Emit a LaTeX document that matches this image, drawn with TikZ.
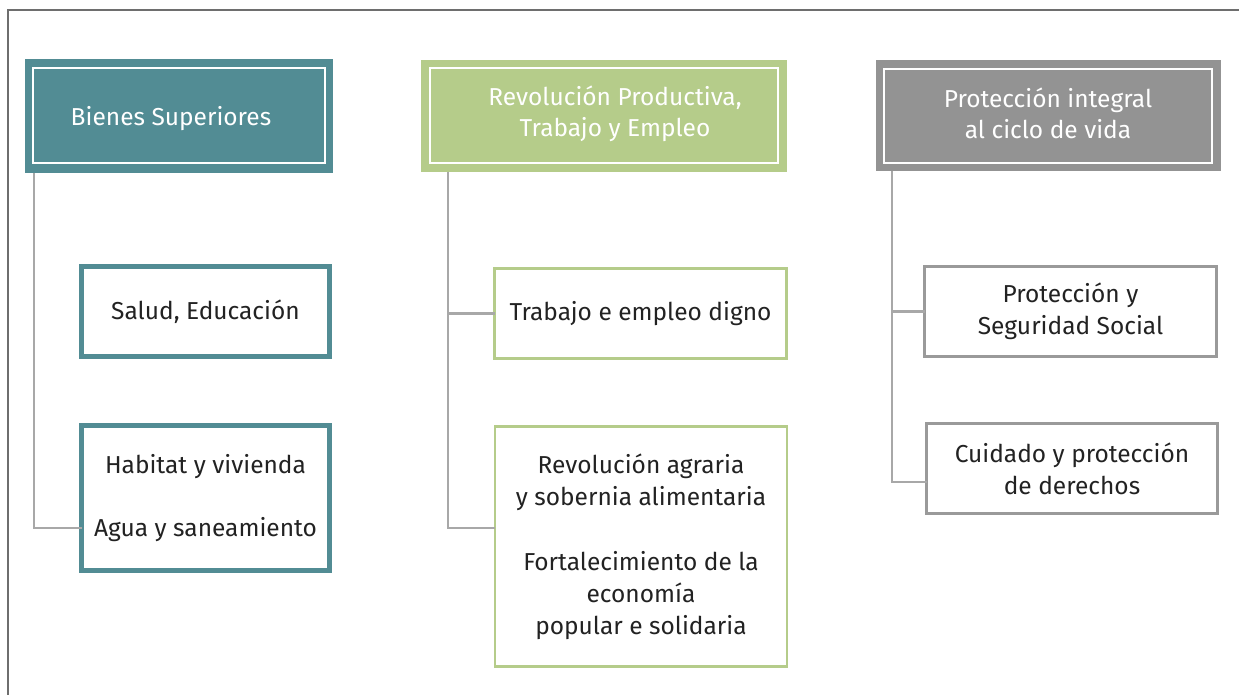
\documentclass[tikz,border=0pt]{standalone}
\usepackage{fontspec}
\setmainfont{Fira Sans}
\definecolor{teal1}{HTML}{528C94}
\definecolor{green1}{HTML}{B5CC8A}
\definecolor{grey1}{HTML}{939393}
\definecolor{greyb}{HTML}{9A9A9A}
\definecolor{connc}{HTML}{A8A8A8}
\definecolor{txt}{HTML}{222222}
\definecolor{framec}{HTML}{6E6E6E}
\begin{document}
\begin{tikzpicture}[x=1pt,y=-1pt,
  hdr/.style={rectangle, inner sep=0pt, outer sep=0pt},
  inframe/.style={draw=white, line width=2pt},
  htext/.style={text=white, font=\fontsize{24.5}{31}\selectfont, align=center, inner sep=0pt},
  sub/.style={rectangle, inner sep=0pt, outer sep=0pt, fill=white, text=txt, font=\fontsize{24.5}{32}\selectfont, align=center},
  subteal/.style={sub, draw=teal1, line width=5pt},
  subgreen/.style={sub, draw=green1, line width=2.5pt},
  subgrey/.style={sub, draw=greyb, line width=2.5pt},
  conn/.style={draw=connc, line width=2.6pt}]
\useasboundingbox (0,0) rectangle (1239,695);
% outer frame
\coordinate (f1) at (8,695);
\coordinate (f2) at (8,10);
\coordinate (f3) at (1240,10);
\draw[framec, line width=1.5pt] (f1) -- (f2) -- (f3);

% headers
\node[hdr, fill=teal1, minimum width=308pt, minimum height=114pt] (h1) at (179,116) {};
\draw[inframe] ([shift={(8pt,-9pt)}]h1.north west) rectangle ([shift={(-8pt,10pt)}]h1.south east);
\node[htext] (t1) at (171,119) {Bienes Superiores};

\node[hdr, fill=green1, minimum width=366pt, minimum height=112pt] (h2) at (604,116) {};
\draw[inframe] ([shift={(9pt,-8pt)}]h2.north west) rectangle ([shift={(-9pt,9pt)}]h2.south east);
\node[htext] (t2) at (615,114) {Revolución Productiva,\\Trabajo y Empleo};

\node[hdr, fill=grey1, minimum width=345pt, minimum height=111pt] (h3) at (1048.5,115.5) {};
\draw[inframe] ([shift={(8pt,-9pt)}]h3.north west) rectangle ([shift={(-9pt,8pt)}]h3.south east);
\node[htext] (t3) at (1048,113) {Protección integral\\al ciclo de vida};

% column 1
\node[subteal, minimum width=248pt, minimum height=90pt] (b11) at (205.5,311.5) {Salud, Educación};
\node[subteal, minimum width=248pt, minimum height=145pt] (b12) at (205.5,498) {Habitat y vivienda\\[31pt]Agua y saneamiento};

% column 2
\node[subgreen, minimum width=292pt, minimum height=90pt] (b21) at (640.5,313.5) {Trabajo e empleo digno};
\node[subgreen, minimum width=292pt, minimum height=240pt] (b22) at (641,546.5) {Revolución agraria\\y sobernia alimentaria\\[33pt]Fortalecimiento de la\\economía\\popular e solidaria};

% column 3
\node[subgrey, minimum width=292pt, minimum height=90pt] (b31) at (1070.5,311.5) {Protección y\\Seguridad Social};
\node[subgrey, minimum width=291pt, minimum height=90pt] (b32) at (1072,468.5) {Cuidado y protección\\de derechos};

% connectors
\draw[conn] ([xshift=9pt]h1.south west) |- ([yshift=-30pt]b12.west);
\draw[conn] ([xshift=27pt]h2.south west) |- ([yshift=18.5pt]b22.west);
\draw[conn] ([xshift=27pt]h2.south west) |- (b21.west);
\draw[conn] ([xshift=16pt]h3.south west) |- ([yshift=-13.5pt]b32.west);
\draw[conn] ([xshift=16pt]h3.south west) |- (b31.west);
\end{tikzpicture}
\end{document}
